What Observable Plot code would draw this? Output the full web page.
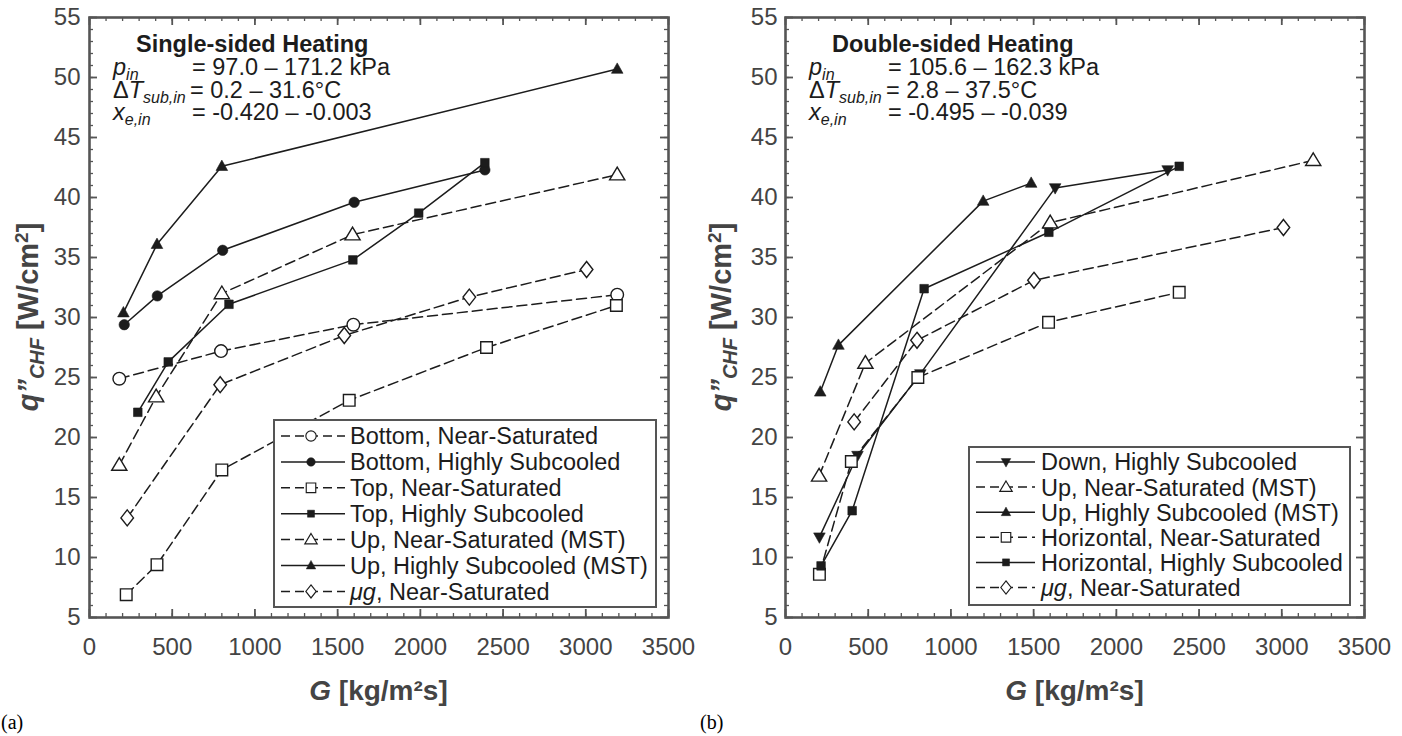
<!DOCTYPE html>
<html>
<head>
<meta charset="utf-8">
<script src="https://cdn.jsdelivr.net/npm/d3@7"></script>
<script src="https://cdn.jsdelivr.net/npm/@observablehq/plot@0.6"></script>
<style>
  body { margin: 0; background: #fff; }
  #wrap { position: relative; width: 1402px; height: 736px; overflow: hidden; background: #fff; }
  #left { position: absolute; left: 0; top: 0; }
  #right { position: absolute; left: 700px; top: 0; }
</style>
</head>
<body>
<div id="wrap"><div id="left"></div><div id="right"></div></div>
<script>
// ---------- axis ticks ----------
const G_TICKS = [0, 500, 1000, 1500, 2000, 2500, 3000, 3500];
const Q_TICKS = [5, 10, 15, 20, 25, 30, 35, 40, 45, 50, 55];
const G_MINOR = [0,100,200,300,400,500,600,700,800,900,1000,1100,1200,1300,1400,1500,1600,1700,1800,1900,2000,2100,2200,2300,2400,2500,2600,2700,2800,2900,3000,3100,3200,3300,3400,3500];
const Q_MINOR = [5,6,7,8,9,10,11,12,13,14,15,16,17,18,19,20,21,22,23,24,25,26,27,28,29,30,31,32,33,34,35,36,37,38,39,40,41,42,43,44,45,46,47,48,49,50,51,52,53,54,55];

// ---------- panel (a): Single-sided Heating ----------
const a_bottomNS_G = [180, 795, 1595, 3190];
const a_bottomNS_q = [24.9, 27.2, 29.4, 31.9];
const a_bottomHS_G = [210, 410, 805, 1600, 2390];
const a_bottomHS_q = [29.4, 31.8, 35.6, 39.6, 42.3];
const a_topNS_G = [222, 408, 800, 1570, 2400, 3185];
const a_topNS_q = [6.9, 9.4, 17.3, 23.1, 27.5, 31.0];
const a_topHS_G = [292, 476, 843, 1592, 1990, 2390];
const a_topHS_q = [22.1, 26.3, 31.1, 34.8, 38.7, 42.9];
const a_upNS_G = [180, 403, 800, 1590, 3190];
const a_upNS_q = [17.7, 23.4, 32.0, 36.9, 41.9];
const a_upHS_G = [205, 408, 800, 3190];
const a_upHS_q = [30.4, 36.1, 42.6, 50.7];
const a_ugNS_G = [228, 790, 1540, 2296, 3005];
const a_ugNS_q = [13.3, 24.4, 28.5, 31.7, 34.0];

// ---------- panel (b): Double-sided Heating ----------
const b_downHS_G = [205, 435, 815, 1630, 2310];
const b_downHS_q = [11.7, 18.5, 25.3, 40.8, 42.3];
const b_upNS_G = [203, 483, 1600, 3190];
const b_upNS_q = [16.8, 26.2, 37.9, 43.1];
const b_upHS_G = [210, 320, 1195, 1485];
const b_upHS_q = [23.8, 27.7, 39.7, 41.2];
const b_horNS_G = [205, 398, 800, 1590, 2380];
const b_horNS_q = [8.6, 18.0, 25.0, 29.6, 32.1];
const b_horHS_G = [215, 403, 838, 1592, 2380];
const b_horHS_q = [9.3, 13.9, 32.4, 37.1, 42.6];
const b_ugNS_G = [415, 795, 1502, 3010];
const b_ugNS_q = [21.3, 28.1, 33.1, 37.5];

// ---------- text ----------
const a_title = "Single-sided Heating";
const a_params = ["= 97.0 \u2013 171.2 kPa", "= 0.2 \u2013 31.6\u00B0C", "= -0.420 \u2013 -0.003"];
const b_title = "Double-sided Heating";
const b_params = ["= 105.6 \u2013 162.3 kPa", "= 2.8 \u2013 37.5\u00B0C", "= -0.495 \u2013 -0.039"];

const a_labels = ["Bottom, Near-Saturated", "Bottom, Highly Subcooled", "Top, Near-Saturated", "Top, Highly Subcooled", "Up, Near-Saturated (MST)", "Up, Highly Subcooled (MST)", "\u03BCg, Near-Saturated"];
const b_labels = ["Down, Highly Subcooled", "Up, Near-Saturated (MST)", "Up, Highly Subcooled (MST)", "Horizontal, Near-Saturated", "Horizontal, Highly Subcooled", "\u03BCg, Near-Saturated"];

// ---------- styles ----------
const INK = "#1c1c1c";
const AXIS = "#555";
const LABEL = "#444";
const FONT = "'Liberation Sans', Arial, Helvetica, sans-serif";

const SYM = {
  circleOpen: { draw(c) { c.moveTo(6.3, 0); c.arc(0, 0, 6.3, 0, 2 * Math.PI); c.closePath(); } },
  circleFill: { draw(c) { c.moveTo(5.2, 0); c.arc(0, 0, 5.2, 0, 2 * Math.PI); c.closePath(); } },
  squareOpen: { draw(c) { c.rect(-5.8, -5.8, 11.6, 11.6); } },
  squareFill: { draw(c) { c.rect(-4.3, -4.3, 8.6, 8.6); } },
  triOpen: { draw(c) { c.moveTo(0, -7.5); c.lineTo(7.6, 5.2); c.lineTo(-7.6, 5.2); c.closePath(); } },
  triFill: { draw(c) { c.moveTo(0, -6.2); c.lineTo(5.8, 4.2); c.lineTo(-5.8, 4.2); c.closePath(); } },
  triDown: { draw(c) { c.moveTo(0, 6.2); c.lineTo(5.8, -4.2); c.lineTo(-5.8, -4.2); c.closePath(); } },
  diamondOpen: { draw(c) { c.moveTo(0, -8); c.lineTo(6.3, 0); c.lineTo(0, 8); c.lineTo(-6.3, 0); c.closePath(); } }
};

const seriesA = [
  { label: a_labels[0], G: a_bottomNS_G, q: a_bottomNS_q, sym: "circleOpen", dashed: true },
  { label: a_labels[1], G: a_bottomHS_G, q: a_bottomHS_q, sym: "circleFill", dashed: false },
  { label: a_labels[2], G: a_topNS_G, q: a_topNS_q, sym: "squareOpen", dashed: true },
  { label: a_labels[3], G: a_topHS_G, q: a_topHS_q, sym: "squareFill", dashed: false },
  { label: a_labels[4], G: a_upNS_G, q: a_upNS_q, sym: "triOpen", dashed: true },
  { label: a_labels[5], G: a_upHS_G, q: a_upHS_q, sym: "triFill", dashed: false },
  { label: a_labels[6], G: a_ugNS_G, q: a_ugNS_q, sym: "diamondOpen", dashed: true }
];
const seriesB = [
  { label: b_labels[0], G: b_downHS_G, q: b_downHS_q, sym: "triDown", dashed: false },
  { label: b_labels[1], G: b_upNS_G, q: b_upNS_q, sym: "triOpen", dashed: true },
  { label: b_labels[2], G: b_upHS_G, q: b_upHS_q, sym: "triFill", dashed: false },
  { label: b_labels[3], G: b_horNS_G, q: b_horNS_q, sym: "squareOpen", dashed: true },
  { label: b_labels[4], G: b_horHS_G, q: b_horHS_q, sym: "squareFill", dashed: false },
  { label: b_labels[5], G: b_ugNS_G, q: b_ugNS_q, sym: "diamondOpen", dashed: true }
];

const DASH = "10,5";

function panel(cfg) {
  const H = 736, mt = 17, mb = 119;
  const { width, ml, mr } = cfg;
  const innerW = width - ml - mr, innerH = H - mt - mb;
  const marks = [];
  for (const s of cfg.series) {
    const rows = s.G.map((g, i) => ({ G: g, q: s.q[i] }));
    const opts = { x: "G", y: "q", stroke: INK, strokeWidth: 1.5 };
    if (s.dashed) opts.strokeDasharray = DASH;
    marks.push(Plot.line(rows, opts));
  }
  for (const s of cfg.series) {
    const rows = s.G.map((g, i) => ({ G: g, q: s.q[i] }));
    const open = s.sym.endsWith("Open");
    marks.push(Plot.dot(rows, { x: "G", y: "q", symbol: SYM[s.sym], r: 5,
      fill: open ? "white" : INK, stroke: INK, strokeWidth: open ? 1.4 : 0.6 }));
  }
  // inward ticks on all four sides
  const tk = (len, w) => [
    Plot.tickX(len === 8 ? G_TICKS : G_MINOR, { x: d => d, insetTop: innerH - len, stroke: AXIS, strokeWidth: w }),
    Plot.tickX(len === 8 ? G_TICKS : G_MINOR, { x: d => d, insetBottom: innerH - len, stroke: AXIS, strokeWidth: w }),
    Plot.tickY(len === 8 ? Q_TICKS : Q_MINOR, { y: d => d, insetRight: innerW - len, stroke: AXIS, strokeWidth: w }),
    Plot.tickY(len === 8 ? Q_TICKS : Q_MINOR, { y: d => d, insetLeft: innerW - len, stroke: AXIS, strokeWidth: w })
  ];
  marks.push(...tk(4, 1.3), ...tk(8, 1.8));
  marks.push(Plot.frame({ stroke: AXIS, strokeWidth: 2.6 }));
  marks.push(Plot.axisX({ ticks: G_TICKS, tickSize: 0, tickPadding: 20, tickFormat: d => String(d), label: null, fill: LABEL }));
  marks.push(Plot.axisY({ ticks: Q_TICKS, tickSize: 0, tickPadding: cfg.yPad, tickFormat: d => String(d), label: null, fill: LABEL }));

  const svg = Plot.plot({
    width, height: H, marginLeft: ml, marginRight: mr, marginTop: mt, marginBottom: mb,
    x: { domain: [0, 3500] }, y: { domain: [5, 55] },
    style: { fontFamily: FONT, fontSize: "24px", color: LABEL, background: "white", overflow: "visible" },
    marks
  });

  const g = d3.select(svg).append("g").attr("font-family", FONT).attr("text-anchor", "start");
  const fl = ml;

  // y-axis label
  const yl = g.append("text")
    .attr("transform", `translate(${cfg.ylx},${mt + innerH / 2}) rotate(-90)`)
    .attr("text-anchor", "middle").attr("dy", "0.36em")
    .attr("font-weight", "bold").attr("font-size", 29).attr("fill", LABEL);
  yl.append("tspan").attr("font-style", "italic").text("q\u201D");
  yl.append("tspan").attr("font-style", "italic").attr("font-size", 20).attr("dy", 6).text("CHF");
  yl.append("tspan").attr("dy", -6).text(" [W/cm");
  yl.append("tspan").attr("font-size", 19).attr("dy", -10).text("2");
  yl.append("tspan").attr("dy", 10).text("]");

  // x-axis label
  const xl = g.append("text").attr("x", ml + innerW / 2).attr("y", 700)
    .attr("text-anchor", "middle").attr("font-weight", "bold").attr("font-size", 28).attr("fill", LABEL);
  xl.append("tspan").attr("font-style", "italic").text("G");
  xl.append("tspan").text(" [kg/m\u00B2s]");

  // annotation block
  g.append("text").attr("x", fl + 47).attr("y", 52).attr("font-weight", "bold")
    .attr("font-size", 23.5).attr("fill", INK).text(cfg.title);
  const rowsY = [75, 97.5, 120];
  const t1 = g.append("text").attr("x", fl + 24).attr("y", rowsY[0]).attr("font-size", 23.5).attr("fill", INK);
  t1.append("tspan").attr("font-style", "italic").text("p");
  t1.append("tspan").attr("font-style", "italic").attr("font-size", 16).attr("dy", 5).text("in");
  g.append("text").attr("x", fl + 103).attr("y", rowsY[0]).attr("font-size", 23.5).attr("fill", INK).text(cfg.params[0]);
  const t2 = g.append("text").attr("x", fl + 24).attr("y", rowsY[1]).attr("font-size", 23.5).attr("fill", INK);
  t2.append("tspan").text("\u0394");
  t2.append("tspan").attr("font-style", "italic").text("T");
  t2.append("tspan").attr("font-style", "italic").attr("font-size", 16).attr("dy", 5).text("sub,in");
  g.append("text").attr("x", fl + 101).attr("y", rowsY[1]).attr("font-size", 23.5).attr("fill", INK).text(cfg.params[1]);
  const t3 = g.append("text").attr("x", fl + 24).attr("y", rowsY[2]).attr("font-size", 23.5).attr("fill", INK);
  t3.append("tspan").attr("font-style", "italic").text("x");
  t3.append("tspan").attr("font-style", "italic").attr("font-size", 16).attr("dy", 5).text("e,in");
  g.append("text").attr("x", fl + 103).attr("y", rowsY[2]).attr("font-size", 23.5).attr("fill", INK).text(cfg.params[2]);

  // legend
  const L = cfg.legend;
  g.append("rect").attr("x", L.x).attr("y", L.y).attr("width", L.w).attr("height", L.h)
    .attr("fill", "white").attr("stroke", AXIS).attr("stroke-width", 2);
  cfg.series.forEach((s, i) => {
    const y = L.row0 + i * L.step;
    const open = s.sym.endsWith("Open");
    g.append("line").attr("x1", L.x + 7).attr("x2", L.x + L.lineEnd).attr("y1", y).attr("y2", y)
      .attr("stroke", INK).attr("stroke-width", 1.5).attr("stroke-dasharray", s.dashed ? "9,5" : null);
    g.append("path").attr("transform", `translate(${L.x + L.mk},${y}) scale(0.82)`)
      .attr("d", d3.symbol(SYM[s.sym])())
      .attr("fill", open ? "white" : INK).attr("stroke", INK).attr("stroke-width", open ? 1.4 : 0.6);
    const t = g.append("text").attr("x", L.x + L.tx).attr("y", y).attr("dy", "0.36em")
      .attr("font-size", 23.5).attr("fill", INK);
    if (s.label.startsWith("\u03BCg")) {
      t.append("tspan").attr("font-style", "italic").text("\u03BCg");
      t.append("tspan").text(s.label.slice(2));
    } else {
      t.text(s.label);
    }
  });

  // panel tag
  g.append("text").attr("x", cfg.tagX).attr("y", 729).attr("font-family", "'Liberation Serif', 'Times New Roman', serif")
    .attr("font-size", 20).attr("fill", "#000").text(cfg.tag);

  return svg;
}

document.getElementById("left").appendChild(panel({
  series: seriesA, width: 700, ml: 89, mr: 32, yPad: 9, ylx: 28,
  title: a_title, params: a_params, tag: "(a)", tagX: 1,
  legend: { x: 274, y: 420, w: 382, h: 187, row0: 436, step: 25.9, lineEnd: 71, mk: 37, tx: 76 }
}));
document.getElementById("right").appendChild(panel({
  series: seriesB, width: 702, ml: 85, mr: 38, yPad: 8, ylx: 21,
  title: b_title, params: b_params, tag: "(b)", tagX: 0,
  legend: { x: 269, y: 447, w: 381, h: 158, row0: 462, step: 25.1, lineEnd: 66, mk: 37, tx: 72 }
}));
</script>
</body>
</html>
